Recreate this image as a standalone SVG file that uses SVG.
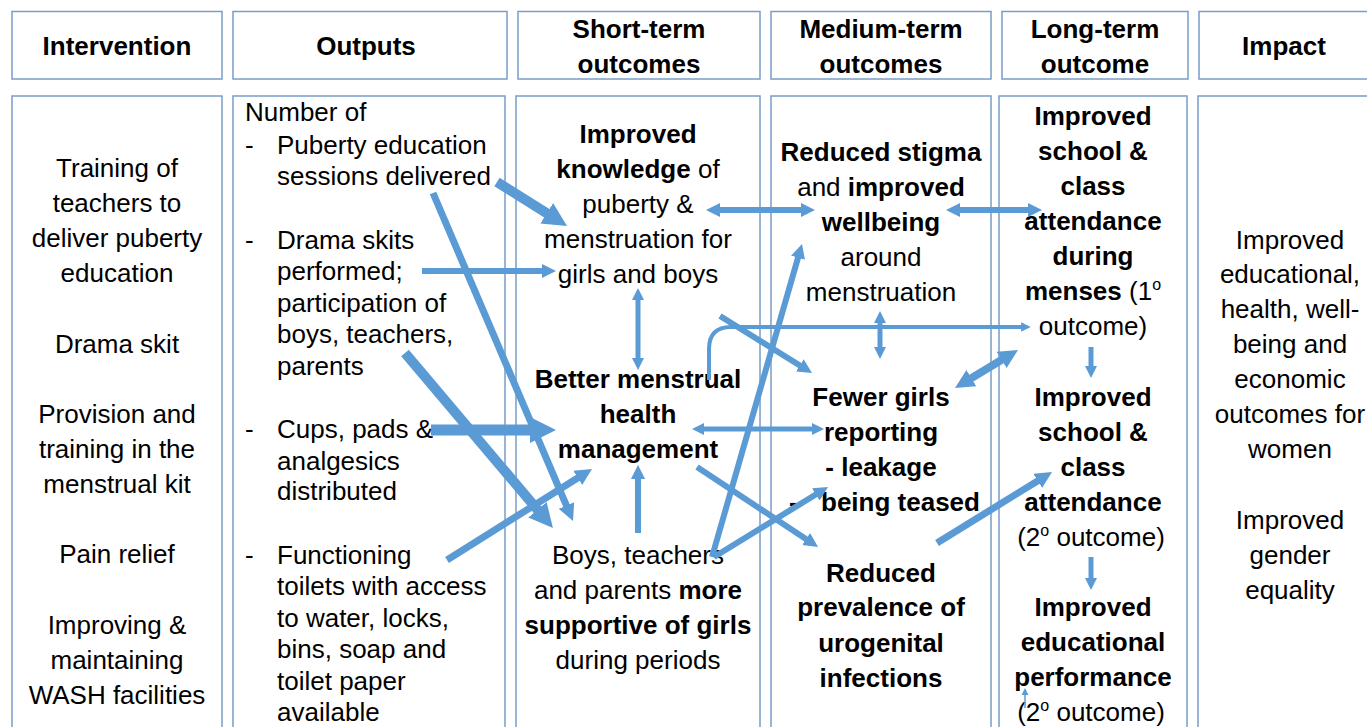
<svg xmlns="http://www.w3.org/2000/svg" width="1367" height="727" viewBox="0 0 1367 727">
<defs>
<style>
.box{fill:#fff;stroke:#7A9CC8;stroke-width:1.5}
text{font-family:"Liberation Sans",Arial,sans-serif;font-size:26px;fill:#000}
.c{text-anchor:middle}
.b{font-weight:bold}
.sup{font-size:16px}
.ar{stroke:#5B9BD5;fill:none;stroke-linecap:butt}
.e{marker-end:url(#ah)}
.d{marker-start:url(#ah);marker-end:url(#ah)}
</style>
<marker id="ah" viewBox="0 0 10 10" refX="3" refY="5" markerWidth="2.4" markerHeight="2.6" orient="auto-start-reverse" markerUnits="strokeWidth">
<path d="M0,0 L10,5 L0,10 z" fill="#5B9BD5"/>
</marker>
<marker id="ahs" viewBox="0 0 10 10" refX="3" refY="5" markerWidth="7" markerHeight="8" orient="auto" markerUnits="userSpaceOnUse">
<path d="M0,0 L10,5 L0,10 z" fill="#5B9BD5"/>
</marker>
</defs>
<rect width="1367" height="727" fill="#fff"/>

<g id="headers">
<rect class="box" x="12" y="11.5" width="210" height="67.5"/>
<text class="c b" x="117" y="55">Intervention</text>
<rect class="box" x="233" y="11.5" width="274" height="67.5"/>
<text class="c b" x="366" y="55">Outputs</text>
<rect class="box" x="518" y="11.5" width="242" height="67.5"/>
<text class="c b" x="639" y="38">Short-term</text>
<text class="c b" x="639" y="73">outcomes</text>
<rect class="box" x="771" y="11.5" width="220" height="67.5"/>
<text class="c b" x="881" y="38">Medium-term</text>
<text class="c b" x="881" y="73">outcomes</text>
<rect class="box" x="1002" y="11.5" width="186" height="67.5"/>
<text class="c b" x="1095" y="38">Long-term</text>
<text class="c b" x="1095" y="73">outcome</text>
<rect class="box" x="1199" y="11.5" width="180" height="67.5"/>
<text class="c b" x="1284" y="55">Impact</text>
</g>

<g id="intervention">
<rect class="box" x="12" y="96" width="210" height="650"/>
<text class="c" x="117" y="177">Training of</text>
<text class="c" x="117" y="212">teachers to</text>
<text class="c" x="117" y="247">deliver puberty</text>
<text class="c" x="117" y="282">education</text>
<text class="c" x="117" y="353">Drama skit</text>
<text class="c" x="117" y="423">Provision and</text>
<text class="c" x="117" y="458">training in the</text>
<text class="c" x="117" y="493">menstrual kit</text>
<text class="c" x="117" y="563">Pain relief</text>
<text class="c" x="117" y="634">Improving &amp;</text>
<text class="c" x="117" y="669">maintaining</text>
<text class="c" x="117" y="704">WASH facilities</text>
</g>

<g id="outputs">
<rect class="box" x="233" y="96" width="272" height="650"/>
<text x="245" y="121">Number of</text>
<text x="245" y="154">-</text>
<text x="277" y="154">Puberty education</text>
<text x="277" y="185">sessions delivered</text>
<text x="245" y="249">-</text>
<text x="277" y="249">Drama skits</text>
<text x="277" y="280">performed;</text>
<text x="277" y="312">participation of</text>
<text x="277" y="343">boys, teachers,</text>
<text x="277" y="375">parents</text>
<text x="245" y="438">-</text>
<text x="277" y="438">Cups, pads &amp;</text>
<text x="277" y="470">analgesics</text>
<text x="277" y="500">distributed</text>
<text x="245" y="564">-</text>
<text x="277" y="564">Functioning</text>
<text x="277" y="595">toilets with access</text>
<text x="277" y="627">to water, locks,</text>
<text x="277" y="658">bins, soap and</text>
<text x="277" y="690">toilet paper</text>
<text x="277" y="721">available</text>
</g>

<g id="short-term">
<rect class="box" x="516" y="96" width="244" height="650"/>
<g id="knowledge">
<text class="c b" x="638" y="143">Improved</text>
<text class="c" x="638" y="178"><tspan class="b">knowledge</tspan> of</text>
<text class="c" x="638" y="213">puberty &amp;</text>
<text class="c" x="638" y="248">menstruation for</text>
<text class="c" x="638" y="283">girls and boys</text>
</g>
<g id="mhm">
<text class="c b" x="638" y="388">Better menstrual</text>
<text class="c b" x="638" y="423">health</text>
<text class="c b" x="638" y="458">management</text>
</g>
<g id="supportive">
<text class="c" x="638" y="564">Boys, teachers</text>
<text class="c" x="638" y="599">and parents <tspan class="b">more</tspan></text>
<text class="c b" x="638" y="634">supportive of girls</text>
<text class="c" x="638" y="669">during periods</text>
</g>
</g>

<g id="medium-term">
<rect class="box" x="771" y="96" width="220" height="650"/>
<g id="stigma">
<text class="c b" x="881" y="161">Reduced stigma</text>
<text class="c" x="881" y="196">and <tspan class="b">improved</tspan></text>
<text class="c b" x="881" y="231">wellbeing</text>
<text class="c" x="881" y="266">around</text>
<text class="c" x="881" y="301">menstruation</text>
</g>
<g id="fewer-girls">
<text class="c b" x="881" y="406">Fewer girls</text>
<text class="c b" x="881" y="441">reporting</text>
<text class="c b" x="881" y="476">- leakage</text>
<text class="b" x="789" y="511">-</text>
<text class="b" x="821" y="511">being teased</text>
</g>
<g id="infections">
<text class="c b" x="881" y="582">Reduced</text>
<text class="c b" x="881" y="616">prevalence of</text>
<text class="c b" x="881" y="652">urogenital</text>
<text class="c b" x="881" y="687">infections</text>
</g>
</g>

<g id="long-term">
<rect class="box" x="999" y="96" width="188" height="650"/>
<g id="attendance-menses">
<text class="c b" x="1093" y="125">Improved</text>
<text class="c b" x="1093" y="160">school &amp;</text>
<text class="c b" x="1093" y="195">class</text>
<text class="c b" x="1093" y="230">attendance</text>
<text class="c b" x="1093" y="265">during</text>
<text class="c" x="1093" y="300"><tspan class="b">menses</tspan> (1<tspan class="sup" dy="-10">o</tspan></text>
<text class="c" x="1093" y="335">outcome)</text>
</g>
<g id="attendance">
<text class="c b" x="1093" y="406">Improved</text>
<text class="c b" x="1093" y="441">school  &amp;</text>
<text class="c b" x="1093" y="476">class</text>
<text class="c b" x="1093" y="511">attendance</text>
<text class="c" x="1091" y="546">(2<tspan class="sup" dy="-10">o</tspan><tspan dy="10"> outcome)</tspan></text>
</g>
<g id="performance">
<text class="c b" x="1093" y="616">Improved</text>
<text class="c b" x="1093" y="651">educational</text>
<text class="c b" x="1093" y="686">performance</text>
<text class="c" x="1091" y="721">(2<tspan class="sup" dy="-10">o</tspan><tspan dy="10"> outcome)</tspan></text>
</g>
</g>

<g id="impact">
<rect class="box" x="1198" y="96" width="180" height="650"/>
<text class="c" x="1290" y="249">Improved</text>
<text class="c" x="1290" y="283">educational,</text>
<text class="c" x="1290" y="318">health, well-</text>
<text class="c" x="1290" y="353">being and</text>
<text class="c" x="1290" y="388">economic</text>
<text class="c" x="1290" y="423">outcomes for</text>
<text class="c" x="1290" y="458">women</text>
<text class="c" x="1290" y="529">Improved</text>
<text class="c" x="1290" y="564">gender</text>
<text class="c" x="1290" y="599">equality</text>
</g>

<g id="connectors">
<line class="ar e" x1="497" y1="182" x2="552.8" y2="217.1" stroke-width="10"/>
<line class="ar e" x1="433" y1="193" x2="568.4" y2="510.1" stroke-width="7"/>
<line class="ar e" x1="422" y1="271" x2="546" y2="271" stroke-width="6"/>
<line class="ar e" x1="405" y1="353" x2="542.1" y2="515.2" stroke-width="10"/>
<line class="ar e" x1="431" y1="430" x2="537.5" y2="430" stroke-width="11"/>
<line class="ar e" x1="447" y1="560" x2="582" y2="475.3" stroke-width="7"/>
<line class="ar d" x1="638" y1="296.4" x2="638" y2="361.6" stroke-width="5"/>
<line class="ar e" x1="638" y1="533" x2="638" y2="475" stroke-width="6"/>
<line class="ar d" x1="716" y1="210" x2="805" y2="210" stroke-width="6"/>
<line class="ar d" x1="956" y1="210" x2="1032" y2="210" stroke-width="6"/>
<line class="ar d" x1="700.4" y1="429" x2="815.6" y2="429" stroke-width="5"/>
<path class="ar e" d="M709,380 L709,349 Q709,327 731,327 L1024,327" stroke-width="4"/>
<line class="ar e" x1="720" y1="316" x2="803.5" y2="367.7" stroke-width="6"/>
<line class="ar d" x1="880" y1="319.4" x2="880" y2="350.6" stroke-width="5"/>
<line class="ar d" x1="966.5" y1="381.1" x2="1006.5" y2="356.9" stroke-width="8"/>
<line class="ar e" x1="1091" y1="347" x2="1091" y2="369.6" stroke-width="5"/>
<line class="ar e" x1="712" y1="557" x2="799.2" y2="253.6" stroke-width="6"/>
<line class="ar e" x1="714" y1="557" x2="819.5" y2="492.2" stroke-width="6"/>
<line class="ar e" x1="697" y1="467" x2="809.7" y2="541.5" stroke-width="6"/>
<line class="ar e" x1="937" y1="543" x2="1042" y2="478.2" stroke-width="7"/>
<line class="ar e" x1="1091" y1="557" x2="1091" y2="581.6" stroke-width="5"/>
<line class="ar" x1="1025" y1="708" x2="1025" y2="693" stroke-width="1.5" marker-end="url(#ahs)"/>
</g>
</svg>
